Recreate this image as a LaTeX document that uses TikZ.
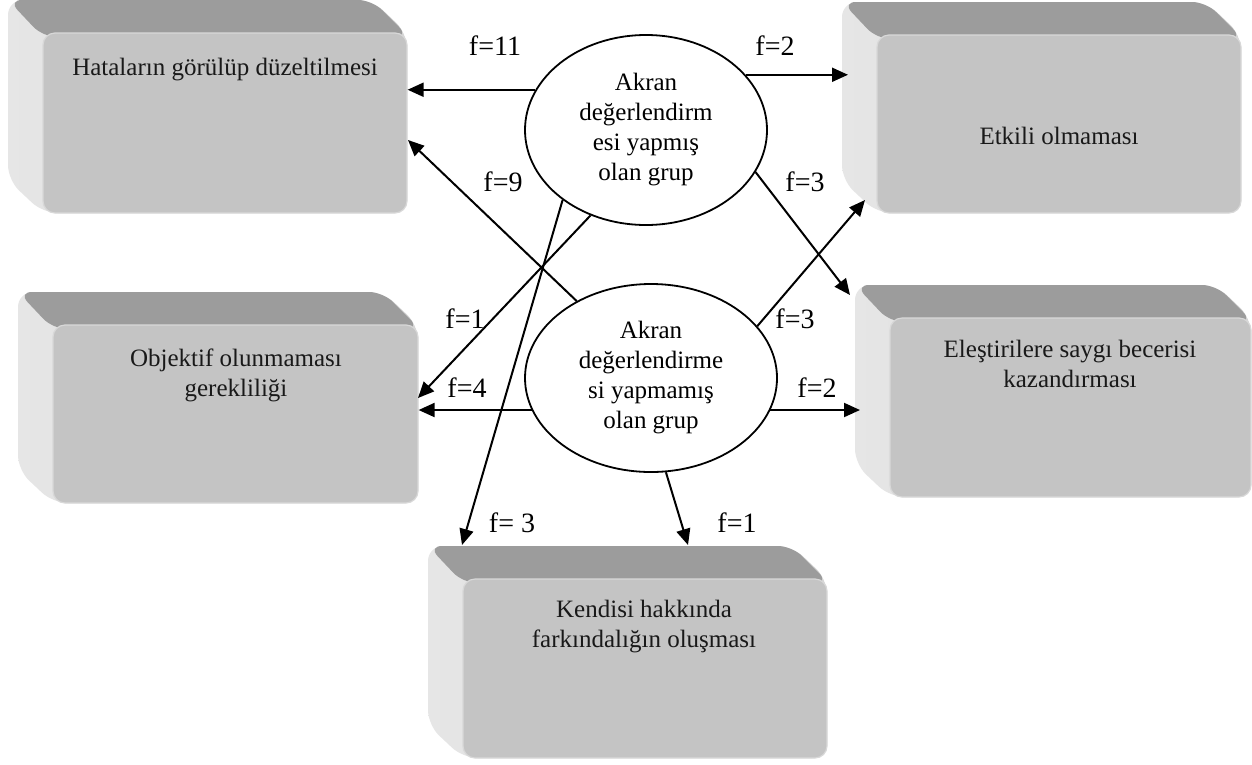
\documentclass[tikz,border=0pt]{standalone}
\usepackage{fontspec}
\setmainfont{Liberation Serif}
\usetikzlibrary{shapes.geometric,arrows.meta}
\definecolor{frontcol}{HTML}{C4C4C4}
\definecolor{topcol}{HTML}{9C9C9C}
\definecolor{sidecol}{HTML}{E6E6E6}
\definecolor{sidedark}{HTML}{D4D4D4}
\definecolor{rimcol}{HTML}{D8D8D8}
% #1 name, #2 x1, #3 y1, #4 x2, #5 y2 of the front face
\newcommand{\bevbox}[5]{%
  \shade[left color=sidecol, right color=sidedark, rounded corners=15pt]
    ({#2-35},{#3-33}) -- ({#4-35},{#3-33}) -- (#4,#3) -- (#4,#5) -- (#2,#5) -- ({#2-35},{#5-33}) -- cycle;
  \fill[topcol, rounded corners=14pt]
    ({#2-35},{#3-33}) -- ({#4-35},{#3-33}) -- ({#4+2},{#3+4}) -- (#2,{#3+4}) -- cycle;
  \node[frontface, minimum width={#4-#2}, minimum height={#5-#3}] (#1) at ({(#2+#4)/2},{(#3+#5)/2}) {};
}
\begin{document}
\begin{tikzpicture}[x=1pt,y=-1pt,
  frontface/.style={rectangle, rounded corners=12pt, fill=frontcol, draw=rimcol, line width=1.2pt, inner sep=0pt},
  btext/.style={align=center, font=\fontsize{25}{30}\selectfont, text=black!90, inner sep=0pt},
  grp/.style={ellipse, draw, fill=white, line width=1.8pt, inner sep=0pt, align=center, font=\fontsize{25}{30}\selectfont},
  arr/.style={line width=2pt, -{Triangle[length=16pt,width=14pt]}},
  lbl/.style={font=\fontsize{28}{30}\selectfont, inner sep=0pt}]
\useasboundingbox (0,0) rectangle (1252,764);
\fill[white] (0,0) rectangle (1252,764);

% boxes
\bevbox{b1}{43}{33}{407}{213}
\bevbox{b2}{877}{35}{1241}{213}
\bevbox{b3}{53}{325}{418}{503}
\bevbox{b4}{890}{318}{1251}{497}
\bevbox{b5}{463}{579}{827}{758}

\node[btext] (t1) at (225,70) {Hataların görülüp düzeltilmesi};
\node[btext] (t2) at (1059,136) {Etkili olmaması};
\node[btext] (t3) at (236,375) {Objektif olunmaması\\gerekliliği};
\node[btext] (t4) at (1070,364) {Eleştirilere saygı becerisi\\kazandırması};
\node[btext] (t5) at (644,627) {Kendisi hakkında\\farkındalığın oluşması};

% groups
\node[grp, minimum width=242pt, minimum height=190pt] (e1) at (646,130)
  {Akran\\değerlendirm\\esi yapmış\\olan grup};
\node[grp, minimum width=252pt, minimum height=188pt] (e2) at (651,378)
  {Akran\\değerlendirme\\si yapmamış\\olan grup};

% target points
\coordinate (x2) at (848,0);
\coordinate (p3) at (850,295);
\coordinate (p4) at (418,398);
\coordinate (p5) at (462,545);
\coordinate (q1) at (408,140);
\coordinate (q3) at (865,200);
\coordinate (x4) at (860,0);
\coordinate (q5) at (688,545);

% connectors
\draw[arr] (e1.160) -- (e1.160 -| b1.east);
\draw[arr] (e1.29) -- (e1.29 -| x2);
\draw[arr] (e1.339) -- (p3);
\draw[arr] (e1.237) -- (p4);
\draw[arr] (e1.220) -- (p5);
\draw[arr] (e2.134) -- (q1);
\draw[arr] (e2.195) -- (e2.195 -| b3.east);
\draw[arr] (e2.26) -- (q3);
\draw[arr] (e2.345) -- (e2.345 -| x4);
\draw[arr] (e2.279) -- (q5);

% labels
\node[lbl] (l1) at (495,46) {f=11};
\node[lbl] (l2) at (775,46) {f=2};
\node[lbl] (l3) at (503,182) {f=9};
\node[lbl] (l4) at (805,182) {f=3};
\node[lbl] (l5) at (465,319) {f=1};
\node[lbl] (l6) at (795,319) {f=3};
\node[lbl] (l7) at (467,388) {f=4};
\node[lbl] (l8) at (817,388) {f=2};
\node[lbl] (l9) at (512,523) {f= 3};
\node[lbl] (l10) at (737,523) {f=1};
\end{tikzpicture}
\end{document}
